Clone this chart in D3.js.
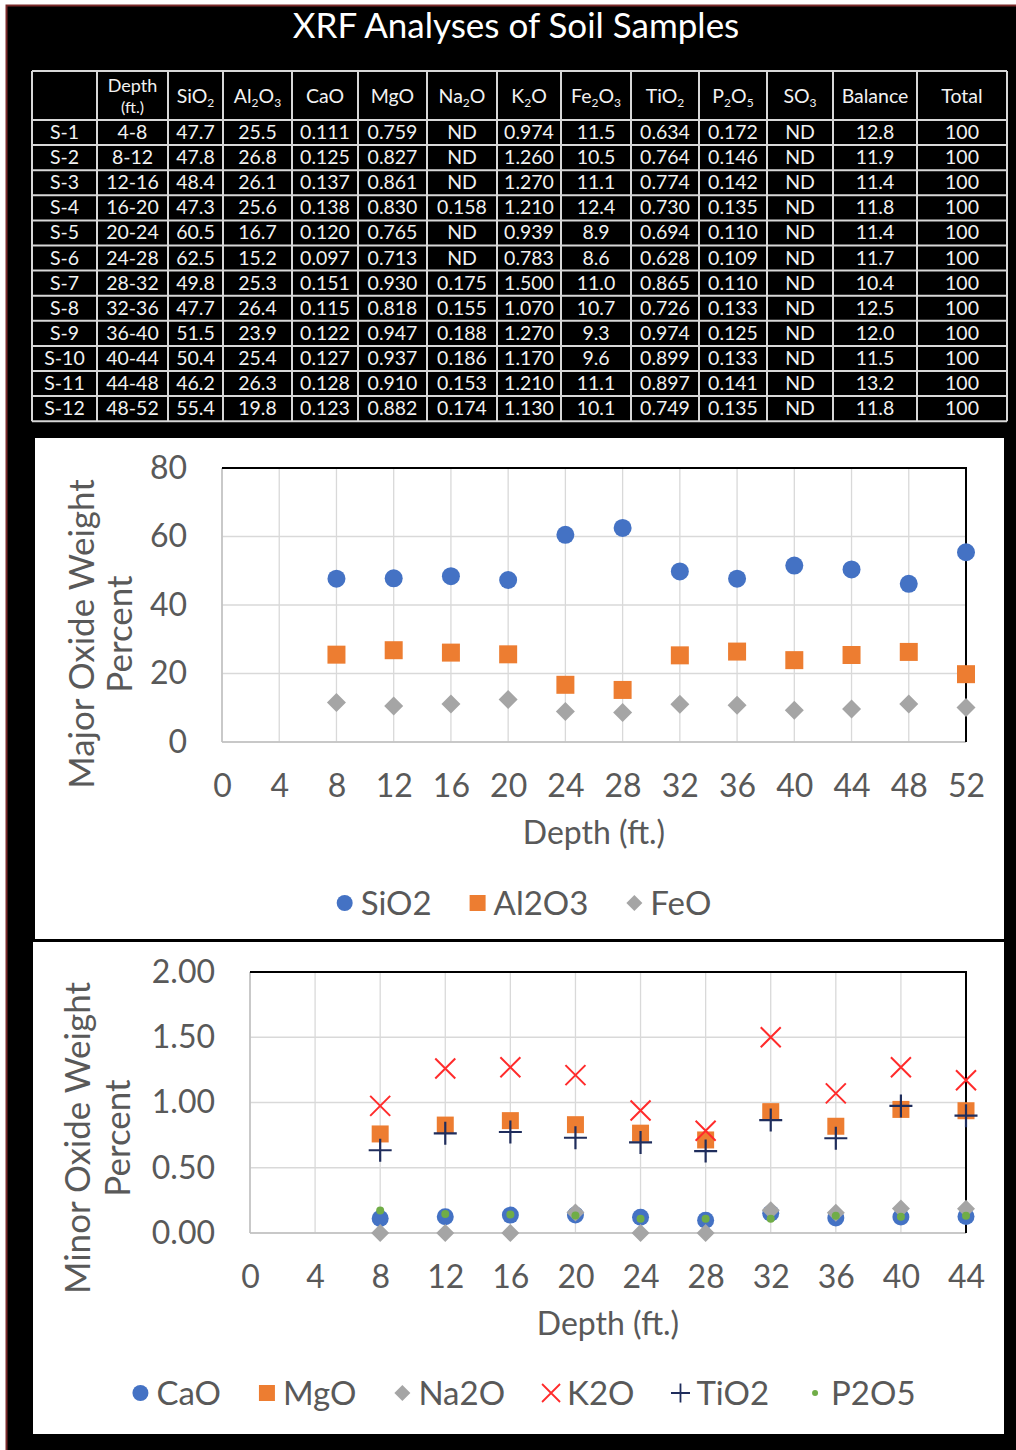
<!DOCTYPE html>
<html>
<head>
<meta charset="utf-8">
<script src="https://cdn.jsdelivr.net/npm/d3@7"></script>
<style>
  html, body { margin: 0; padding: 0; background: #fff; }
  svg { display: block; }
  text { font-family: Lato, "Open Sans", "DejaVu Sans", sans-serif; }
</style>
</head>
<body>
<svg id="page" width="1016" height="1450"></svg>
<script>
// ---- Data: XRF analyses of soil samples (weight %) ----
const samples = ["S-1","S-2","S-3","S-4","S-5","S-6","S-7","S-8","S-9","S-10","S-11","S-12"];
const depthRanges = ["4-8","8-12","12-16","16-20","20-24","24-28","28-32","32-36","36-40","40-44","44-48","48-52"];
const sio2 = [47.7,47.8,48.4,47.3,60.5,62.5,49.8,47.7,51.5,50.4,46.2,55.4];
const al2o3 = [25.5,26.8,26.1,25.6,16.7,15.2,25.3,26.4,23.9,25.4,26.3,19.8];
const cao = [0.111,0.125,0.137,0.138,0.120,0.097,0.151,0.115,0.122,0.127,0.128,0.123];
const mgo = [0.759,0.827,0.861,0.830,0.765,0.713,0.930,0.818,0.947,0.937,0.910,0.882];
const na2o = [null,null,null,0.158,null,null,0.175,0.155,0.188,0.186,0.153,0.174]; // null = ND
const k2o = [0.974,1.260,1.270,1.210,0.939,0.783,1.500,1.070,1.270,1.170,1.210,1.130];
const fe2o3 = [11.5,10.5,11.1,12.4,8.9,8.6,11.0,10.7,9.3,9.6,11.1,10.1];
const tio2 = [0.634,0.764,0.774,0.730,0.694,0.628,0.865,0.726,0.974,0.899,0.897,0.749];
const p2o5 = [0.172,0.146,0.142,0.135,0.110,0.109,0.110,0.133,0.125,0.133,0.141,0.135];
const so3 = [null,null,null,null,null,null,null,null,null,null,null,null];
const balance = [12.8,11.9,11.4,11.8,11.4,11.7,10.4,12.5,12.0,11.5,13.2,11.8];
const total = [100,100,100,100,100,100,100,100,100,100,100,100];

const headerLabels = ["", "Depth|(ft.)", "SiO_2", "Al_2O_3", "CaO", "MgO", "Na_2O", "K_2O",
                      "Fe_2O_3", "TiO_2", "P_2O_5", "SO_3", "Balance", "Total"];

const majorTicksX = [0,4,8,12,16,20,24,28,32,36,40,44,48,52];
const majorTicksY = [0,20,40,60,80];
const minorTicksX = [0,4,8,12,16,20,24,28,32,36,40,44];
const minorTicksY = [0,0.5,1.0,1.5,2.0];

// sample depth plotted at the bottom of each interval
const depth = depthRanges.map(r => +r.split("-")[1]);

const svg = d3.select("#page");
const FONT = 'Lato, "Open Sans", sans-serif';

// ---- page background and frame ----
svg.append("rect").attr("x", 6).attr("y", 5).attr("width", 1010).attr("height", 1445).attr("fill", "#000");
svg.append("path").attr("d", "M6.5,1450V5.5H1016").attr("fill", "none").attr("stroke", "#7a2a2a").attr("stroke-width", 2);

// ---- title ----
svg.append("text").attr("x", 516).attr("y", 38).attr("text-anchor", "middle")
  .attr("fill", "#fff").attr("font-size", 35).text("XRF Analyses of Soil Samples");

// ---- table ----
const colEdges = [32, 97, 168, 223, 292, 358, 427, 497, 561, 631, 699, 767, 833, 917, 1007];
const headTop = 71, headBottom = 120, rowH = 25.1;
const table = svg.append("g");

const f1 = d3.format(".1f"), f3 = d3.format(".3f"), f0 = d3.format("d");
const nd = f => v => v == null ? "ND" : f(v);
const columns = [
  samples, depthRanges,
  sio2.map(f1), al2o3.map(f1), cao.map(f3), mgo.map(f3), na2o.map(nd(f3)), k2o.map(f3),
  fe2o3.map(f1), tio2.map(f3), p2o5.map(f3), so3.map(nd(f3)), balance.map(f1), total.map(f0)
];

// cell text
columns.forEach((col, ci) => {
  const cx = (colEdges[ci] + colEdges[ci + 1]) / 2;
  table.selectAll(null).data(col).join("text")
    .attr("x", cx)
    .attr("y", (d, ri) => headBottom + ri * rowH + 19)
    .attr("text-anchor", "middle").attr("fill", "#f2f2f2").attr("font-size", 19.5)
    .text(d => d);
});

// header text with subscripts
headerLabels.forEach((lab, ci) => {
  if (!lab) return;
  const cx = (colEdges[ci] + colEdges[ci + 1]) / 2;
  if (lab.includes("|")) {
    const [a, b] = lab.split("|");
    table.append("text").attr("x", cx).attr("y", 92).attr("text-anchor", "middle")
      .attr("fill", "#f2f2f2").attr("font-size", 18).text(a);
    table.append("text").attr("x", cx).attr("y", 113).attr("text-anchor", "middle")
      .attr("fill", "#f2f2f2").attr("font-size", 16).text(b);
    return;
  }
  const t = table.append("text").attr("x", cx).attr("y", 103).attr("text-anchor", "middle")
    .attr("fill", "#f2f2f2").attr("font-size", 19.5);
  const parts = lab.split(/(_\d)/).filter(p => p.length);
  let shift = 0;
  parts.forEach(p => {
    if (p.startsWith("_")) {
      t.append("tspan").attr("font-size", 12).attr("dy", 4 - shift).text(p.slice(1));
      shift = 4;
    } else {
      t.append("tspan").attr("dy", -shift).text(p);
      shift = 0;
    }
  });
});

// grid lines
const rowEdges = [headTop, headBottom].concat(samples.map((s, i) => headBottom + (i + 1) * rowH));
table.selectAll("line.h").data(rowEdges).join("line")
  .attr("x1", colEdges[0]).attr("x2", colEdges[colEdges.length - 1])
  .attr("y1", d => d).attr("y2", d => d)
  .attr("stroke", "#d8d8d8").attr("stroke-width", 2);
table.selectAll("line.v").data(colEdges).join("line")
  .attr("x1", d => d).attr("x2", d => d)
  .attr("y1", headTop).attr("y2", rowEdges[rowEdges.length - 1])
  .attr("stroke", "#d8d8d8").attr("stroke-width", 2);

// ---- marker helpers ----
const symPath = {
  circle: r => d3.symbol(d3.symbolCircle, Math.PI * r * r)(),
  square: s => d3.symbol(d3.symbolSquare, s * s)(),
  diamond: s => `M0,${-s/2}L${s/2},0L0,${s/2}L${-s/2},0Z`,
  x: h => `M${-h},${-h}L${h},${h}M${-h},${h}L${h},${-h}`,
  plus: h => `M${-h},0L${h},0M0,${-h}L0,${h}`
};

function drawMarkers(g, xs, ys, spec) {
  g.selectAll(null).data(xs.map((x, i) => [x, ys[i]])).join("path")
    .attr("transform", d => `translate(${d[0]},${d[1]})`)
    .attr("d", spec.path)
    .attr("fill", spec.fill || "none")
    .attr("stroke", spec.stroke || "none")
    .attr("stroke-width", spec.sw || 0);
}

function drawLegend(g, items, cx, cy, fs) {
  const lg = g.append("g");
  const gap = 38;
  let x = 0;
  items.forEach(it => {
    lg.append("path").attr("transform", `translate(${x + 8},${cy})`).attr("d", it.spec.path)
      .attr("fill", it.spec.fill || "none").attr("stroke", it.spec.stroke || "none")
      .attr("stroke-width", it.spec.sw || 0);
    const t = lg.append("text").attr("x", x + 24).attr("y", cy + fs * 0.36)
      .attr("font-size", fs).attr("fill", "#595959").text(it.name);
    x += 24 + t.node().getComputedTextLength() + gap;
  });
  const w = x - gap;
  lg.attr("transform", `translate(${cx - w / 2},0)`);
}

function drawFrame(g, x, y, ticksX, ticksY, fmtY, yTitle, titleCy, titleX1, titleX2, yLabelRight, fs) {
  const [x0, x1] = x.range(), [y0, y1] = y.range();
  // gridlines
  g.append("g").selectAll("line").data(ticksX).join("line")
    .attr("x1", d => x(d)).attr("x2", d => x(d)).attr("y1", y0).attr("y2", y1)
    .attr("stroke", "#d9d9d9").attr("stroke-width", 1.3);
  g.append("g").selectAll("line").data(ticksY).join("line")
    .attr("x1", x0).attr("x2", x1).attr("y1", d => y(d)).attr("y2", d => y(d))
    .attr("stroke", "#d9d9d9").attr("stroke-width", 1.3);
  // axis lines
  g.append("line").attr("x1", x0).attr("x2", x1).attr("y1", y0).attr("y2", y0).attr("stroke", "#bfbfbf").attr("stroke-width", 1.5);
  g.append("line").attr("x1", x0).attr("x2", x0).attr("y1", y0).attr("y2", y1).attr("stroke", "#bfbfbf").attr("stroke-width", 1.5);
  g.append("path").attr("d", `M${x0},${y1}H${x1}V${y0}`).attr("fill", "none").attr("stroke", "#000").attr("stroke-width", 2);

  // axes
  const ax = g.append("g").attr("transform", `translate(0,${y0})`)
    .call(d3.axisBottom(x).tickValues(ticksX).tickSize(0).tickPadding(32).tickFormat(d3.format("d")));
  const ay = g.append("g").attr("transform", `translate(${x0},0)`)
    .call(d3.axisLeft(y).tickValues(ticksY).tickSize(0).tickPadding(x0 - yLabelRight).tickFormat(fmtY));
  [ax, ay].forEach(a => {
    a.select(".domain").remove();
    a.selectAll("text").attr("font-size", fs).attr("fill", "#595959").attr("font-family", FONT);
  });

  // axis titles
  g.append("text").attr("x", (x0 + x1) / 2).attr("y", y0 + 102).attr("text-anchor", "middle")
    .attr("font-size", fs).attr("fill", "#595959").text("Depth (ft.)");
  g.append("text").attr("transform", `translate(${titleX1},${titleCy}) rotate(-90)`)
    .attr("text-anchor", "middle").attr("dy", "0.35em")
    .attr("font-size", fs + 3).attr("fill", "#595959").text(yTitle[0]);
  g.append("text").attr("transform", `translate(${titleX2},${titleCy}) rotate(-90)`)
    .attr("text-anchor", "middle").attr("dy", "0.35em")
    .attr("font-size", fs + 3).attr("fill", "#595959").text(yTitle[1]);
}

// ---- Major oxide chart ----
svg.append("rect").attr("x", 35).attr("y", 438).attr("width", 969).attr("height", 501).attr("fill", "#fff");
const gMaj = svg.append("g");
const xMaj = d3.scaleLinear([0, 52], [222, 966]);
const yMaj = d3.scaleLinear([0, 80], [742, 468]);
drawFrame(gMaj, xMaj, yMaj, majorTicksX, majorTicksY, d3.format("d"),
  ["Major Oxide Weight", "Percent"], 634, 82, 120, 187, 32);

const majSpecs = {
  SiO2: { path: symPath.circle(9), fill: "#4472c4" },
  Al2O3: { path: symPath.square(18), fill: "#ed7d31" },
  FeO: { path: symPath.diamond(19), fill: "#a5a5a5" }
};
const majSeries = [["SiO2", sio2], ["Al2O3", al2o3], ["FeO", fe2o3]];
majSeries.forEach(([name, vals]) => {
  drawMarkers(gMaj, depth.map(xMaj), vals.map(yMaj), majSpecs[name]);
});
drawLegend(gMaj, majSeries.map(([name]) => ({ name, spec: {
  ...majSpecs[name],
  path: name === "SiO2" ? symPath.circle(8) : name === "Al2O3" ? symPath.square(16) : symPath.diamond(16)
}})), 524, 903, 33);

// ---- Minor oxide chart ----
svg.append("rect").attr("x", 33).attr("y", 942).attr("width", 971).attr("height", 492).attr("fill", "#fff");
const gMin = svg.append("g");
const xMin = d3.scaleLinear([0, 44], [250, 966]);
const yMin = d3.scaleLinear([0, 2], [1233, 972]);
drawFrame(gMin, xMin, yMin, minorTicksX, minorTicksY, d3.format(".2f"),
  ["Minor Oxide Weight", "Percent"], 1138, 78, 118, 215, 32);

const minSpecs = {
  CaO: { path: symPath.circle(8.5), fill: "#4472c4" },
  MgO: { path: symPath.square(17), fill: "#ed7d31" },
  Na2O: { path: symPath.diamond(18), fill: "#a5a5a5" },
  K2O: { path: symPath.x(10), stroke: "#ff2b2b", sw: 2 },
  TiO2: { path: symPath.plus(11.5), stroke: "#1f2d5c", sw: 2.2 },
  P2O5: { path: symPath.circle(4), fill: "#70ad47" }
};
const minSeries = [["CaO", cao], ["MgO", mgo], ["Na2O", na2o.map(v => v == null ? 0 : v)],
                   ["K2O", k2o], ["TiO2", tio2], ["P2O5", p2o5]];
const inRange = depth.map(d => d <= 44);
minSeries.forEach(([name, vals]) => {
  const xs = depth.filter((d, i) => inRange[i]).map(xMin);
  const ys = vals.filter((v, i) => inRange[i]).map(yMin);
  drawMarkers(gMin, xs, ys, minSpecs[name]);
});
const minLegendSpec = {
  CaO: { path: symPath.circle(8), fill: "#4472c4" },
  MgO: { path: symPath.square(16), fill: "#ed7d31" },
  Na2O: { path: symPath.diamond(16), fill: "#a5a5a5" },
  K2O: { path: symPath.x(9), stroke: "#ff2b2b", sw: 1.8 },
  TiO2: { path: symPath.plus(9.5), stroke: "#1f2d5c", sw: 1.8 },
  P2O5: { path: symPath.circle(3), fill: "#70ad47" }
};
drawLegend(gMin, minSeries.map(([name]) => ({ name, spec: minLegendSpec[name] })), 524, 1393, 33);
</script>
</body>
</html>
